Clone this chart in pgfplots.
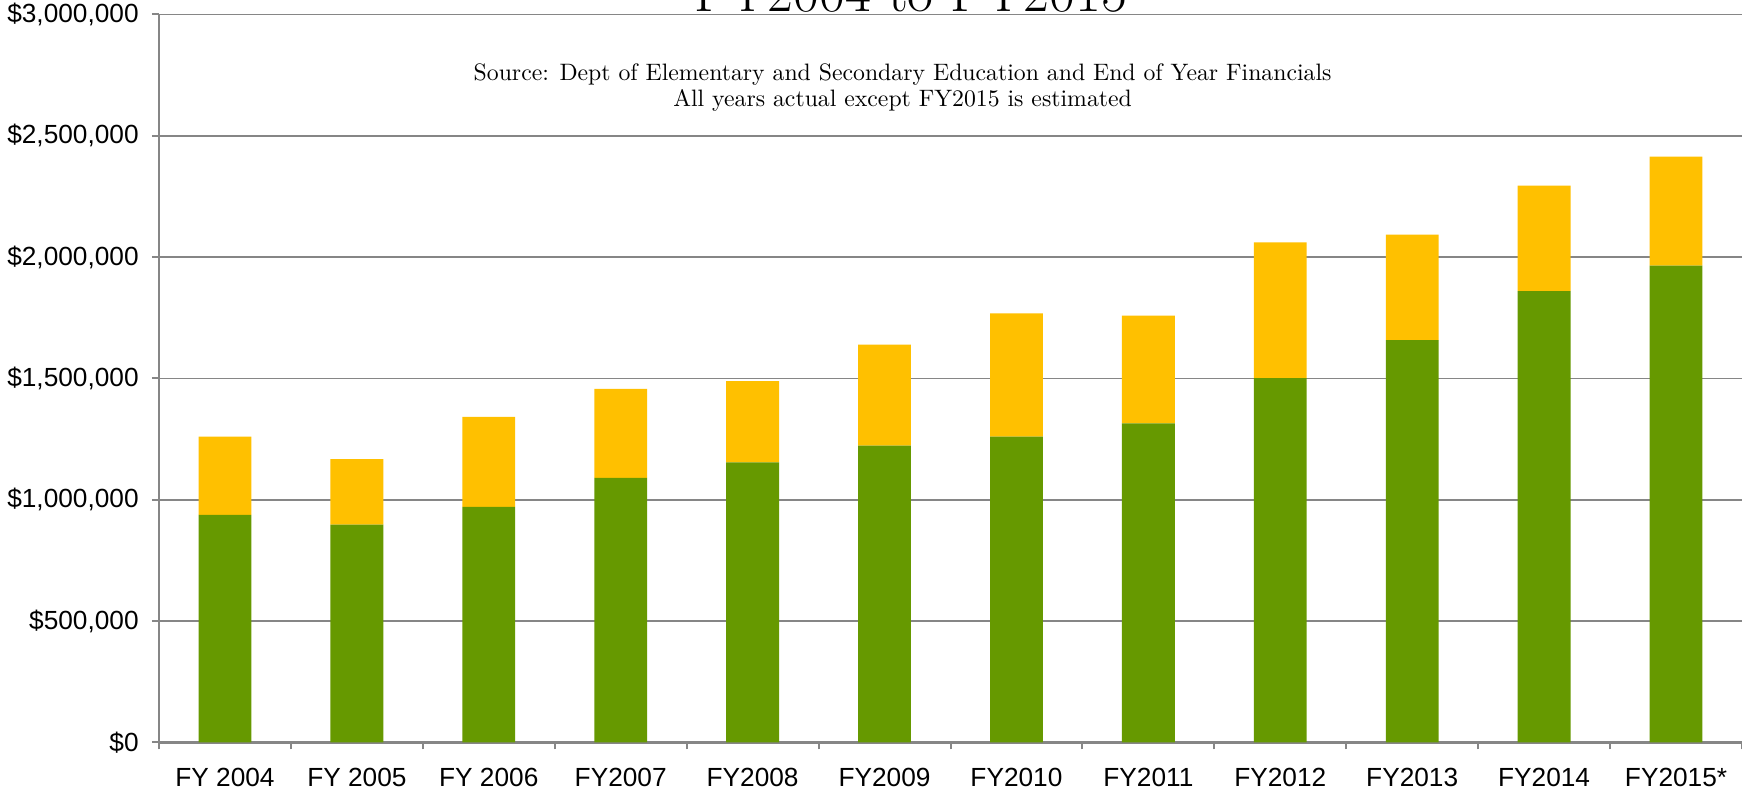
\documentclass[border=0pt]{standalone}
\usepackage{fontspec}
\setsansfont{Liberation Sans}
\usepackage{pgfplots}
\pgfplotsset{compat=1.18}

\definecolor{barGreen}{RGB}{102,153,0}
\definecolor{barGold}{RGB}{255,192,0}
\definecolor{gridGray}{RGB}{134,134,134}

\begin{document}
\begin{tikzpicture}
\begin{axis}[
    scale only axis,
    width=633.2pt, height=291.2pt,
    ybar stacked,
    bar width=0.4,
    xmin=-0.5, xmax=11.5,
    ymin=0, ymax=3000000,
    xtick={0,...,11},
    xticklabels={FY 2004,FY 2005,FY 2006,FY2007,FY2008,FY2009,FY2010,FY2011,FY2012,FY2013,FY2014,FY2015*},
    minor xtick={-0.5,0.5,...,11.5},
    major x tick style={draw=none},
    ytick={0,500000,...,3000000},
    yticklabels={{\$0},{\$500,000},{\$1,000,000},{\$1,500,000},{\$2,000,000},{\$2,500,000},{\$3,000,000}},
    scaled y ticks=false,
    tick align=outside,
    tick pos=left,
    major tick length=2.8pt,
    minor tick length=2.8pt,
    every tick/.style={gridGray, line width=0.8pt},
    ymajorgrids,
    grid style={gridGray, line width=0.6pt},
    axis x line*=bottom,
    axis y line*=left,
    x axis line style={gridGray, line width=1.2pt},
    y axis line style={gridGray, line width=0.8pt},
    ticklabel style={font=\sffamily\fontsize{10.5}{12}\selectfont, text=black},
    yticklabel style={xshift=-1.8pt},
    xticklabel style={yshift=-4pt},
    axis background/.style={fill=white},
    clip=false,
]
\addplot[fill=barGreen, draw=none] coordinates {
    (0,938000) (1,898000) (2,971000) (3,1090000) (4,1154000) (5,1223000)
    (6,1260000) (7,1315000) (8,1502000) (9,1658000) (10,1860000) (11,1965000)
};
\addplot[fill=barGold, draw=none] coordinates {
    (0,322000) (1,270000) (2,371000) (3,367000) (4,335000) (5,417000)
    (6,508000) (7,444000) (8,559000) (9,435000) (10,435000) (11,449000)
};
\node[anchor=base, font=\fontsize{22.5}{26}\selectfont] at (axis cs:5.2,3000000) [yshift=1.3pt] {FY2004 to FY2015};
\node[align=center, font=\fontsize{9.5}{10.3}\selectfont] at (axis cs:5.137,2700000) {Source: Dept of Elementary and Secondary Education and End of Year Financials\\All years actual except FY2015 is estimated};
\end{axis}
\pgfresetboundingbox
\path[use as bounding box] (-63.6pt,-18.8pt) rectangle (633.2pt,297pt);
\end{tikzpicture}
\end{document}
